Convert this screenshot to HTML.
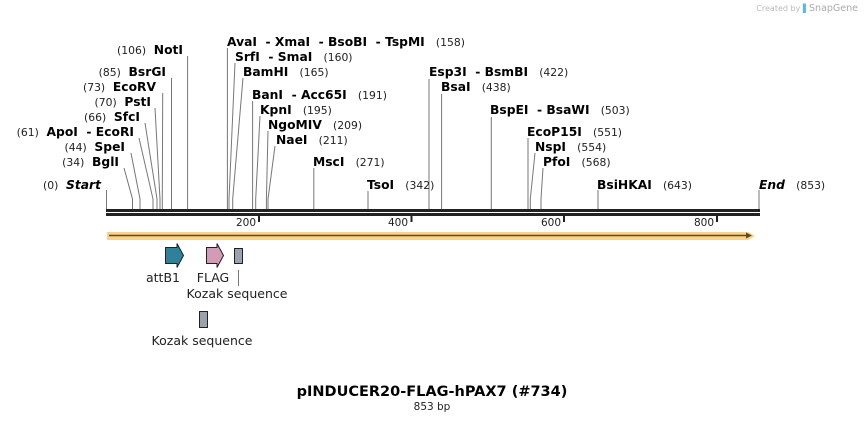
<!DOCTYPE html>
<html><head><meta charset="utf-8"><style>
body{margin:0;background:#fff}
svg text{font-family:"DejaVu Sans","Liberation Sans",sans-serif;white-space:pre}
.n{font-weight:bold;font-size:12.3px;fill:#000}
.p{font-size:10.8px;fill:#222}
.t{font-size:10.5px;fill:#222}
.f{font-size:12.5px;fill:#222}
</style></head><body>
<svg width="866" height="422" viewBox="0 0 866 422" xmlns="http://www.w3.org/2000/svg" xml:space="preserve">
<text x="858" y="11" text-anchor="end" font-size="8" fill="#bbb">Created by <tspan fill="#5bb8e8">▌</tspan><tspan font-size="9.5" fill="#aaa">SnapGene</tspan></text>
<g stroke="#777" stroke-width="1" fill="none">
<path d="M106.5 209V190"/>
<path d="M132.5 209V199L124 168"/>
<path d="M140 209V199L131 153"/>
<path d="M153 209V199L139 138"/>
<path d="M157 209V199L145 123"/>
<path d="M160 209V199L155 108"/>
<path d="M162.3 209V199L162.7 93"/>
<path d="M171.5 209V78"/>
<path d="M187.6 209V56"/>
<path d="M227.4 209V48"/>
<path d="M229 209V199L235 63"/>
<path d="M232.7 209V199L243 78"/>
<path d="M252.6 209V101"/>
<path d="M255.7 209V199L260 116"/>
<path d="M266.4 209V199L268 131"/>
<path d="M268 209V199L275 146"/>
<path d="M313.8 209V168"/>
<path d="M368 209V191"/>
<path d="M429 209V79"/>
<path d="M441.6 209V94"/>
<path d="M491.3 209V117"/>
<path d="M528 209V138"/>
<path d="M530.3 209V199L535 153"/>
<path d="M541 209V199L543 168"/>
<path d="M598 209V190"/>
<path d="M759 209V190"/>
</g>
<text x="101" y="189" text-anchor="end"><tspan class="p">(0) </tspan><tspan class="n" font-style="italic"> Start</tspan></text>
<text x="119" y="166" text-anchor="end"><tspan class="p">(34) </tspan><tspan class="n"> BglI</tspan></text>
<text x="125" y="151" text-anchor="end"><tspan class="p">(44) </tspan><tspan class="n"> SpeI</tspan></text>
<text x="134" y="136" text-anchor="end"><tspan class="p">(61) </tspan><tspan class="n"> ApoI  - EcoRI</tspan></text>
<text x="140" y="121" text-anchor="end"><tspan class="p">(66) </tspan><tspan class="n"> SfcI</tspan></text>
<text x="151" y="106" text-anchor="end"><tspan class="p">(70) </tspan><tspan class="n"> PstI</tspan></text>
<text x="156" y="91" text-anchor="end"><tspan class="p">(73) </tspan><tspan class="n"> EcoRV</tspan></text>
<text x="166" y="76" text-anchor="end"><tspan class="p">(85) </tspan><tspan class="n"> BsrGI</tspan></text>
<text x="183" y="54" text-anchor="end"><tspan class="p">(106) </tspan><tspan class="n"> NotI</tspan></text>
<text x="227" y="46"><tspan class="n">AvaI  - XmaI  - BsoBI  - TspMI </tspan><tspan class="p">  (158)</tspan></text>
<text x="235" y="61"><tspan class="n">SrfI  - SmaI </tspan><tspan class="p">  (160)</tspan></text>
<text x="243" y="76"><tspan class="n">BamHI </tspan><tspan class="p">  (165)</tspan></text>
<text x="252" y="99"><tspan class="n">BanI  - Acc65I </tspan><tspan class="p">  (191)</tspan></text>
<text x="260" y="114"><tspan class="n">KpnI </tspan><tspan class="p">  (195)</tspan></text>
<text x="268" y="129"><tspan class="n">NgoMIV </tspan><tspan class="p">  (209)</tspan></text>
<text x="276" y="144"><tspan class="n">NaeI </tspan><tspan class="p">  (211)</tspan></text>
<text x="313" y="166"><tspan class="n">MscI </tspan><tspan class="p">  (271)</tspan></text>
<text x="367" y="189"><tspan class="n">TsoI </tspan><tspan class="p">  (342)</tspan></text>
<text x="429" y="76"><tspan class="n">Esp3I  - BsmBI </tspan><tspan class="p">  (422)</tspan></text>
<text x="441" y="91"><tspan class="n">BsaI </tspan><tspan class="p">  (438)</tspan></text>
<text x="490" y="114"><tspan class="n">BspEI  - BsaWI </tspan><tspan class="p">  (503)</tspan></text>
<text x="527" y="136"><tspan class="n">EcoP15I </tspan><tspan class="p">  (551)</tspan></text>
<text x="535" y="151"><tspan class="n">NspI </tspan><tspan class="p">  (554)</tspan></text>
<text x="543" y="166"><tspan class="n">PfoI </tspan><tspan class="p">  (568)</tspan></text>
<text x="597" y="189"><tspan class="n">BsiHKAI </tspan><tspan class="p">  (643)</tspan></text>
<text x="759" y="189"><tspan class="n" font-style="italic">End </tspan><tspan class="p">  (853)</tspan></text>
<rect x="106" y="209" width="654" height="3" fill="#222"/>
<rect x="106" y="213" width="654" height="3" fill="#222"/>
<g stroke="#222" stroke-width="2">
<path d="M259 215v7M411.5 215v7M564 215v7M717 215v7"/>
</g>
<text class="t" x="256" y="226" text-anchor="end">200</text>
<text class="t" x="408" y="226" text-anchor="end">400</text>
<text class="t" x="561" y="226" text-anchor="end">600</text>
<text class="t" x="714" y="226" text-anchor="end">800</text>
<path d="M107 232H748L755 236L748 240H107Z" fill="#f9d389"/>
<path d="M109 235.5H749" stroke="#5a4a30" stroke-width="1.6"/>
<path d="M746 232.5L752 235.5L746 238.5Z" fill="#5a4a30"/>
<path d="M165.5 247.5H177V243.5L183.5 255.5L177 267.5V263.5H165.5Z" fill="#2e8199" stroke="#222" stroke-width="1"/>
<path d="M206.5 247.5H217V243.5L223.5 255.5L217 267.5V263.5H206.5Z" fill="#d29bb7" stroke="#222" stroke-width="1"/>
<rect x="234.5" y="248.5" width="8" height="15" fill="#9aa3ad" stroke="#222"/>
<rect x="199.5" y="311.5" width="8" height="16" fill="#9aa3ad" stroke="#222"/>
<path d="M238.5 270V286" stroke="#777"/>
<text class="f" x="163" y="282" text-anchor="middle">attB1</text>
<text class="f" x="213" y="282" text-anchor="middle">FLAG</text>
<text class="f" x="237" y="298" text-anchor="middle">Kozak sequence</text>
<text class="f" x="202" y="345" text-anchor="middle">Kozak sequence</text>
<text x="432" y="396" text-anchor="middle" font-weight="bold" font-size="14.5">pINDUCER20-FLAG-hPAX7 (#734)</text>
<text x="432" y="410" text-anchor="middle" font-size="10.5" fill="#222">853 bp</text>
</svg>
</body></html>
